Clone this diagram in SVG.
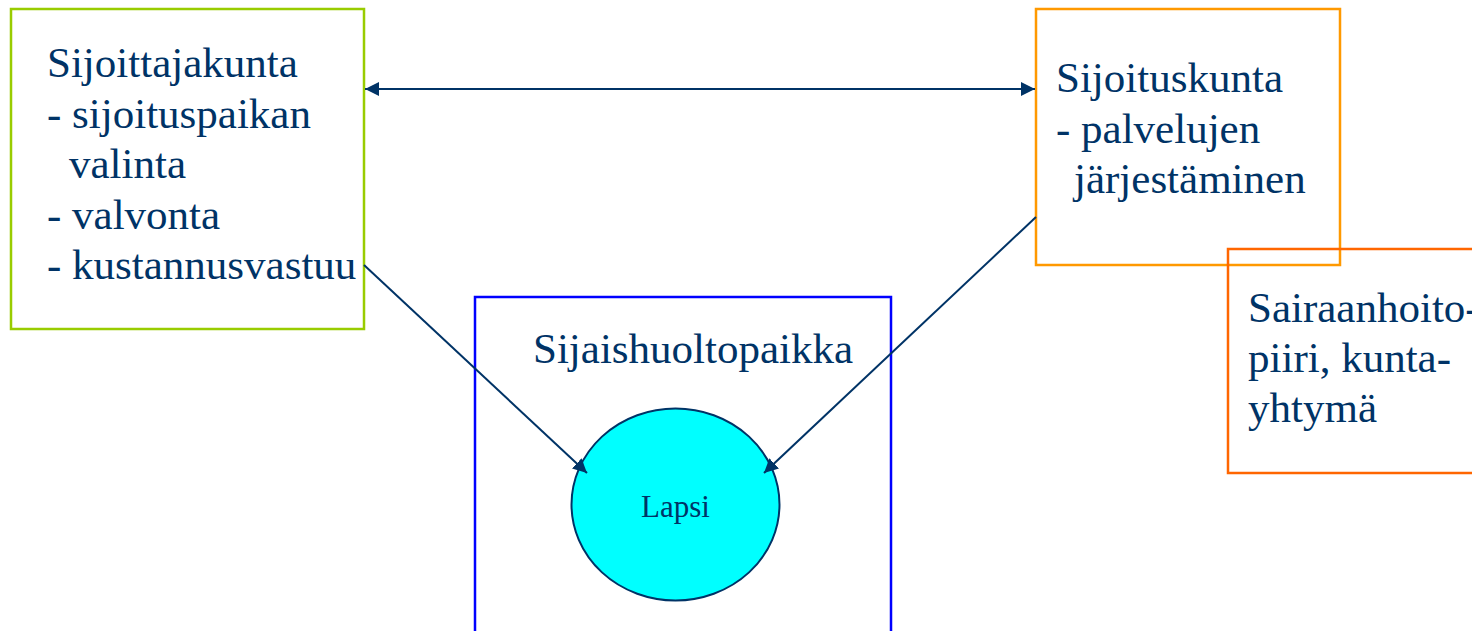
<svg xmlns="http://www.w3.org/2000/svg" width="1472" height="631" viewBox="0 0 1472 631">
<style>
.t{font-family:"Liberation Serif","Times New Roman",serif;font-size:43px;fill:#003366}
.box{fill:none;stroke-width:2.5}
.con{stroke:#003366;stroke-width:2;fill:none}
</style>
<defs>
<marker id="ah" viewBox="0 0 10 10" refX="10" refY="5" markerWidth="7" markerHeight="7" orient="auto-start-reverse" markerUnits="strokeWidth">
<path d="M0,0 L10,5 L0,10 z" fill="#003366"/>
</marker>
</defs>
<rect width="1472" height="631" fill="#ffffff"/>
<g id="sijoittajakunta">
<rect class="box" x="11" y="9" width="353" height="320" stroke="#99cc00"/>
<text class="t" x="47" y="77">Sijoittajakunta</text>
<text class="t" x="47" y="128">- sijoituspaikan</text>
<text class="t" x="69" y="178">valinta</text>
<text class="t" x="47" y="229">- valvonta</text>
<text class="t" x="47" y="279">- kustannusvastuu</text>
</g>
<g id="sijoituskunta">
<rect class="box" x="1036" y="9" width="304" height="256" stroke="#ff9900"/>
<text class="t" x="1056" y="92">Sijoituskunta</text>
<text class="t" x="1056" y="143">- palvelujen</text>
<text class="t" x="1074" y="193">järjestäminen</text>
</g>
<g id="sairaanhoitopiiri">
<rect class="box" x="1228" y="249" width="260" height="224" stroke="#ff6600"/>
<text class="t" x="1248" y="322">Sairaanhoito-</text>
<text class="t" x="1248" y="372">piiri, kunta-</text>
<text class="t" x="1248" y="422">yhtymä</text>
</g>
<g id="sijaishuoltopaikka">
<rect class="box" x="475" y="297" width="416" height="350" stroke="#0000ff"/>
<text class="t" x="533" y="363">Sijaishuoltopaikka</text>
</g>
<g id="lapsi">
<ellipse cx="675.5" cy="504.5" rx="104" ry="96" fill="#00ffff" stroke="#003366" stroke-width="2"/>
<text class="t" x="675.5" y="517" text-anchor="middle" style="font-size:31px">Lapsi</text>
</g>
<g id="connectors">
<line class="con" x1="365" y1="89" x2="1035" y2="89" marker-start="url(#ah)" marker-end="url(#ah)"/>
<line class="con" x1="364" y1="265" x2="587" y2="473" marker-end="url(#ah)"/>
<line class="con" x1="1036" y1="217" x2="764" y2="473" marker-end="url(#ah)"/>
</g>
</svg>
